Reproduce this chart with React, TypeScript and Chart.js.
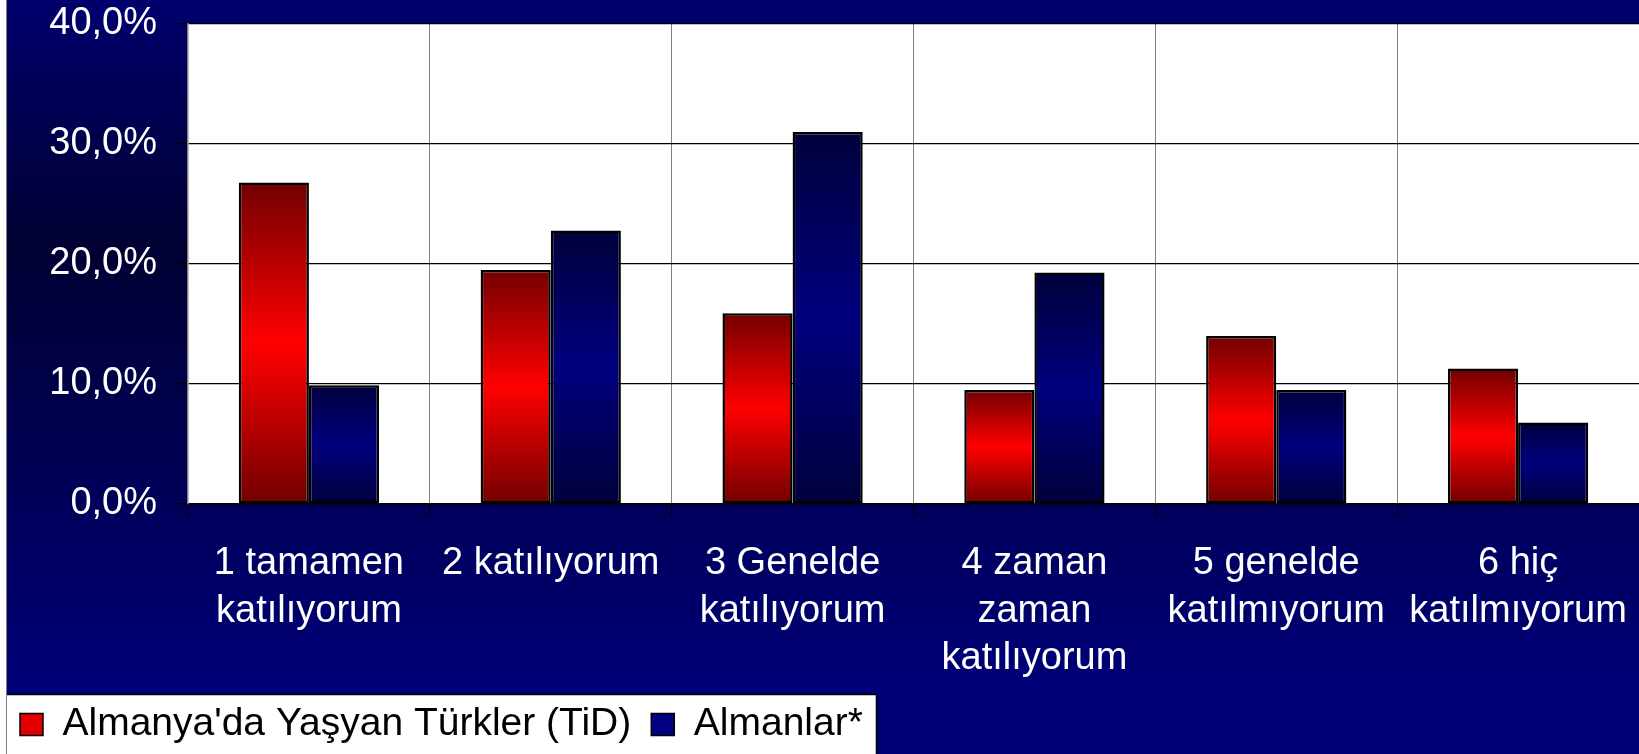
import React, { useEffect, useRef } from "react";
import { Chart, registerables } from "chart.js";

Chart.register(...registerables);

const categories: string[][] = [
  ["1 tamamen", "katılıyorum"],
  ["2 katılıyorum"],
  ["3 Genelde", "katılıyorum"],
  ["4 zaman", "zaman", "katılıyorum"],
  ["5 genelde", "katılmıyorum"],
  ["6 hiç", "katılmıyorum"],
];

const turklerValues = [26.8, 19.5, 15.9, 9.5, 14.0, 11.3];
const almanlarValues = [9.9, 22.8, 31.0, 19.3, 9.5, 6.8];

const seriesNames = ["Almanya'da Yaşyan Türkler (TiD)", "Almanlar*"];

const yTicks = [0, 10, 20, 30, 40];

const FONT = "'Liberation Sans', Arial, Helvetica, sans-serif";

function barGradient(ctx: any, dark: string, bright: string, fallback: string) {
  const chart = ctx.chart;
  const y = chart.scales && chart.scales.y;
  if (!chart.chartArea || !y || ctx.type !== "data") return fallback;
  const v = ctx.raw as number;
  const top = y.getPixelForValue(v);
  const bottom = y.getPixelForValue(0);
  if (!isFinite(top) || !isFinite(bottom) || Math.abs(bottom - top) < 1) return fallback;
  const g = chart.ctx.createLinearGradient(0, top, 0, bottom);
  g.addColorStop(0, dark);
  g.addColorStop(0.5, bright);
  g.addColorStop(1, dark);
  return g;
}

const backgroundPlugin = {
  id: "bgPlugin",
  beforeDraw(chart: any) {
    const { ctx, width, height, chartArea } = chart;
    ctx.save();
    ctx.fillStyle = "#ffffff";
    ctx.fillRect(0, 0, width, height);
    const g = ctx.createLinearGradient(0, 0, 0, 694);
    g.addColorStop(0, "#00006e");
    g.addColorStop(0.35, "#000032");
    g.addColorStop(1, "#000078");
    ctx.fillStyle = g;
    ctx.fillRect(6, 0, width - 6, height);
    // legend box
    ctx.fillStyle = "#ffffff";
    ctx.fillRect(6, 694, 870, height - 694);
    ctx.strokeStyle = "#000000";
    ctx.lineWidth = 1.5;
    ctx.beginPath();
    ctx.moveTo(6, 694.5);
    ctx.lineTo(876.5, 694.5);
    ctx.lineTo(876.5, height);
    ctx.stroke();
    ctx.strokeStyle = "#808080";
    ctx.lineWidth = 1;
    ctx.beginPath();
    ctx.moveTo(6.5, 0);
    ctx.lineTo(6.5, height);
    ctx.stroke();
    // plot area
    ctx.fillStyle = "#ffffff";
    ctx.fillRect(chartArea.left, chartArea.top, chartArea.right - chartArea.left, chartArea.bottom - chartArea.top);
    ctx.restore();
  },
};

export default function App() {
  const ref = useRef<HTMLCanvasElement | null>(null);

  useEffect(() => {
    document.body.style.margin = "0";
    const canvas = ref.current;
    if (!canvas) return;
    const chart = new Chart(canvas, {
      type: "bar",
      data: {
        labels: categories as any,
        datasets: [
          {
            label: seriesNames[0],
            data: turklerValues,
            backgroundColor: (c: any) => barGradient(c, "#720000", "#ff0000", "#e00000"),
            borderColor: "#000000",
            borderWidth: 2.5,
            borderSkipped: false,
            categoryPercentage: 0.58,
            barPercentage: 1.0,
          },
          {
            label: seriesNames[1],
            data: almanlarValues,
            backgroundColor: (c: any) => barGradient(c, "#00003c", "#00007e", "#000080"),
            borderColor: "#000000",
            borderWidth: 2.5,
            borderSkipped: false,
            categoryPercentage: 0.58,
            barPercentage: 1.0,
          },
        ],
      },
      options: {
        animation: false,
        responsive: false,
        maintainAspectRatio: false,
        layout: { padding: { top: 24, left: 0, right: 0, bottom: 0 } },
        plugins: {
          tooltip: { enabled: false },
          legend: {
            position: "bottom",
            align: "start",
            labels: {
              color: "#000000",
              font: { family: FONT, size: 39 },
              boxWidth: 23,
              boxHeight: 22,
              padding: 20,
              generateLabels: (ch: any) =>
                ch.data.datasets.map((ds: any, i: number) => ({
                  text: ds.label,
                  fillStyle: i === 0 ? "#e00000" : "#000080",
                  strokeStyle: "#000000",
                  lineWidth: 1.5,
                  hidden: false,
                  datasetIndex: i,
                  fontColor: "#000000",
                })),
            },
          },
        },
        scales: {
          x: {
            grid: {
              offset: true,
              color: "#808080",
              lineWidth: 1,
              tickLength: 12,
              tickColor: "#000000",
              drawOnChartArea: true,
            },
            border: { color: "#000000", width: 1.5 },
            ticks: {
              color: "#ffffff",
              font: { family: FONT, size: 38, lineHeight: 1.25 },
              padding: 24,
              maxRotation: 0,
              minRotation: 0,
              autoSkip: false,
            },
            afterFit: (scale: any) => {
              scale.height = 181;
              scale.paddingLeft = 0;
              scale.paddingRight = 0;
            },
          },
          y: {
            min: 0,
            max: 40,
            afterBuildTicks: (scale: any) => {
              scale.ticks = yTicks.map((v) => ({ value: v }));
            },
            grid: {
              color: "#000000",
              lineWidth: 1.2,
              tickLength: 12,
              tickColor: "#000000",
            },
            border: { color: "#808080", width: 1.5 },
            ticks: {
              color: "#ffffff",
              font: { family: FONT, size: 38 },
              padding: 19,
              callback: (v: any) => Number(v).toFixed(1).replace(".", ",") + "%",
            },
            afterFit: (scale: any) => {
              scale.width = 188;
              scale.paddingTop = 0;
              scale.paddingBottom = 0;
            },
          },
        },
      },
      plugins: [backgroundPlugin],
    });
    return () => chart.destroy();
  }, []);

  return (
    <div style={{ position: "relative", width: 1639, height: 754 }}>
      <canvas ref={ref} width={1639} height={754} style={{ display: "block", width: 1639, height: 754 }} />
    </div>
  );
}
